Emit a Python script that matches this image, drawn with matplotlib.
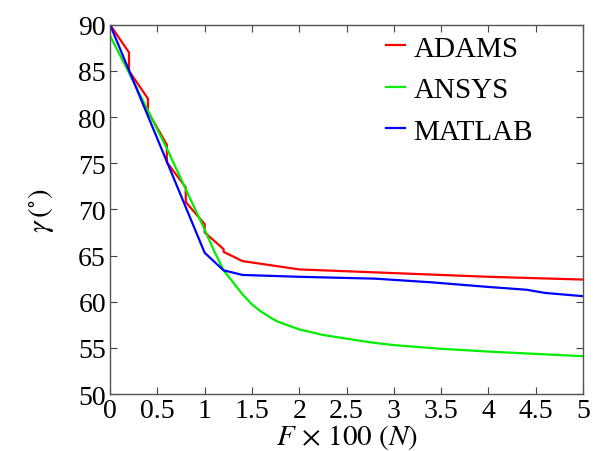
# gamma angle vs applied force, ADAMS / ANSYS / MATLAB comparison

import matplotlib
matplotlib.use('Agg')
import matplotlib.pyplot as plt
from matplotlib.ticker import FuncFormatter

plt.rcParams['font.family'] = 'Liberation Serif'
plt.rcParams['mathtext.fontset'] = 'stix'

# ADAMS (stair-stepped at the low end)
adams_x = [0, 0.2, 0.2, 0.4, 0.4, 0.6, 0.6, 0.8, 0.8, 1.0, 1.0, 1.2, 1.2,
           1.4, 1.6, 1.8, 2.0, 2.5, 3.0, 3.5, 4.0, 4.5, 5.0]
adams_y = [90, 87.0, 85.0, 82.0, 80.6, 77.0, 75.1, 72.4, 70.8, 68.4, 67.5, 65.7, 65.4,
           64.4, 64.1, 63.8, 63.5, 63.3, 63.1, 62.9, 62.7, 62.55, 62.4]

# ANSYS
ansys_x = [0, 0.2, 0.4, 0.6, 0.8, 1.0, 1.1, 1.2, 1.3, 1.4, 1.5, 1.6, 1.7, 1.77,
           2.0, 2.25, 2.5, 2.75, 3.0, 3.5, 4.0, 4.5, 5.0]
ansys_y = [88.8, 84.8, 80.7, 76.6, 72.2, 67.8, 65.5, 63.4, 62.1, 60.8, 59.7, 58.9, 58.25, 57.85,
           57.0, 56.4, 56.0, 55.6, 55.3, 54.9, 54.6, 54.35, 54.1]

# MATLAB
matlab_x = [0, 1.0, 1.2, 1.4, 2.0, 2.8, 3.4, 4.0, 4.4, 4.6, 5.0]
matlab_y = [90, 65.3, 63.4, 62.9, 62.7, 62.5, 62.1, 61.6, 61.3, 60.95, 60.6]

x_ticks = [0, 0.5, 1, 1.5, 2, 2.5, 3, 3.5, 4, 4.5, 5]
y_ticks = [50, 55, 60, 65, 70, 75, 80, 85, 90]

fig = plt.figure(figsize=(5.95, 4.52), dpi=100)
ax = fig.add_axes([0.185, 0.126, 0.795, 0.817])

ax.plot(adams_x, adams_y, color='#ff0000', lw=1.6, label='ADAMS')
ax.plot(ansys_x, ansys_y, color='#00ee00', lw=1.6, label='ANSYS')
ax.plot(matlab_x, matlab_y, color='#0000ff', lw=1.6, label='MATLAB')

ax.set_xlim(0, 5)
ax.set_ylim(50, 90)
ax.set_xticks(x_ticks)
ax.set_yticks(y_ticks)
ax.xaxis.set_major_formatter(FuncFormatter(lambda v, p: '%g' % v))
ax.tick_params(direction='in', top=True, right=True, labelsize=20,
               length=5, width=0.8, color='#444444', pad=3)
for s in ax.spines.values():
    s.set_color('#555555')
    s.set_linewidth(1.0)

ax.set_xlabel(r'$F\,\times\,100\ (N)$', fontsize=21, labelpad=-1)
ax.set_ylabel(r'$\gamma\,(^{\circ})$', fontsize=21, labelpad=16)

ax.legend(loc='upper left', frameon=False, fontsize=21, handlelength=0.65,
          handletextpad=0.3, labelspacing=0.52, borderaxespad=0, borderpad=0,
          bbox_to_anchor=(0.583, 0.972))

fig.savefig('out.png', dpi=100)
